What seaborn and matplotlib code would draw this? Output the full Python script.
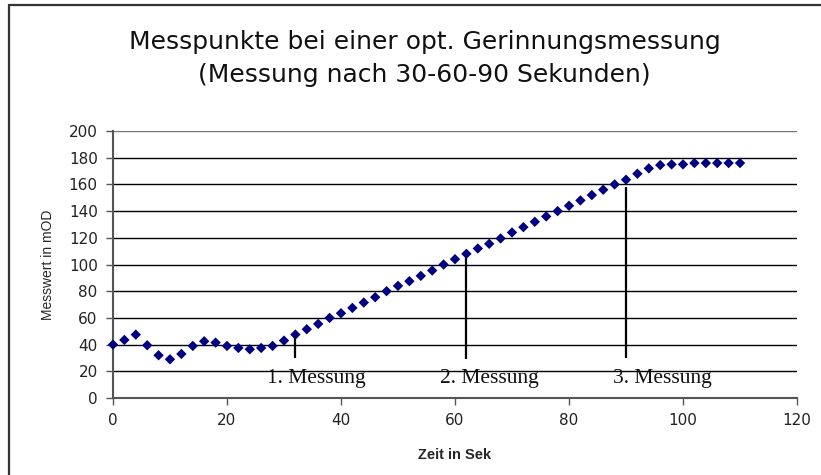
import matplotlib
matplotlib.use("Agg")
import matplotlib.pyplot as plt
from matplotlib.lines import Line2D
from matplotlib.patches import Rectangle
import seaborn as sns
import pandas as pd

# Messpunkte (alle 2 Sekunden)
zeit = [0, 2, 4, 6, 8, 10, 12, 14, 16, 18, 20, 22, 24, 26, 28, 30, 32, 34, 36, 38,
        40, 42, 44, 46, 48, 50, 52, 54, 56, 58, 60, 62, 64, 66, 68, 70, 72, 74, 76, 78,
        80, 82, 84, 86, 88, 90, 92, 94, 96, 98, 100, 102, 104, 106, 108, 110]
messwert = [40, 43.5, 47.5, 39.5, 32, 29, 33, 39, 42.5, 41.5, 39, 37.5, 36.5, 37.5, 39, 43,
            47.5, 51.5, 55.5, 60, 63.5, 67.5, 71.5, 75.5, 80, 84, 87.5, 91.5, 95.5, 100,
            104, 108, 112, 115.5, 119.5, 124, 128, 132, 136, 140, 144, 148, 152, 156, 160,
            163.5, 168, 172, 174.5, 175, 175, 176, 176, 176, 176, 176]

# Messzeitpunkte
mess_x = [32, 62, 90]
mess_top = [47.5, 108, 158]
mess_bottom = [30, 29, 30]
mess_label = ["1. Messung", "2. Messung", "3. Messung"]
label_x = [35.6, 66, 96.4]

df = pd.DataFrame({"zeit": zeit, "messwert": messwert})

sns.set_style("white")
fig = plt.figure(figsize=(8.21, 4.75), dpi=100)
ax = fig.add_axes([0.1376, 0.1621, 0.8332, 0.5621])

# grid lines
for v in range(20, 201, 20):
    ax.axhline(v, color="black" if v < 200 else "#777777", lw=1, zorder=1)

sns.scatterplot(data=df, x="zeit", y="messwert", marker="D", s=28, color="#000080",
                edgecolor="none", ax=ax, zorder=3, clip_on=False)

ax.vlines(mess_x, mess_bottom, mess_top, color="black", lw=1.6, zorder=2)

# labels are cut off at the bottom like in the original
clip = Rectangle((0, 10), 120, 200, transform=ax.transData, facecolor="none", edgecolor="none")
ax.add_patch(clip)
for lx, lab in zip(label_x, mess_label):
    t = ax.text(lx, 11.5, lab, ha="center", va="baseline", fontsize=15.5,
                family="Liberation Serif", color="#111111", zorder=4)
    t.set_clip_path(clip)

ax.set_xlim(0, 120)
ax.set_ylim(0, 200)
ax.set_xticks(range(0, 121, 20))
ax.set_yticks(range(0, 201, 20))
ax.tick_params(axis="both", direction="out", length=5, width=1, color="#555555",
               labelsize=11, pad=6, left=True, bottom=True)
for lab in ax.get_xticklabels() + ax.get_yticklabels():
    lab.set_family("DejaVu Sans")
    lab.set_color("#222222")

for side in ["top", "right"]:
    ax.spines[side].set_visible(False)
for side in ["left", "bottom"]:
    ax.spines[side].set_color("#555555")
    ax.spines[side].set_linewidth(1.5)

ax.set_xlabel("Zeit in Sek", fontsize=10.5, fontweight="bold", family="Liberation Sans", labelpad=14)
ax.set_ylabel("Messwert in mOD", fontsize=10, family="Liberation Sans", labelpad=10)

fig.text(0.517, 0.912, "Messpunkte bei einer opt. Gerinnungsmessung", ha="center", va="center",
         fontsize=18, family="DejaVu Sans", color="#111111")
fig.text(0.517, 0.842, "(Messung nach 30-60-90 Sekunden)", ha="center", va="center",
         fontsize=18, family="DejaVu Sans", color="#111111")

# chart frame (top and left edge visible)
fig.add_artist(Line2D([9 / 821, 1], [1 - 5 / 475, 1 - 5 / 475], transform=fig.transFigure,
                      color="#333333", lw=1.6))
fig.add_artist(Line2D([9 / 821, 9 / 821], [0, 1 - 5 / 475], transform=fig.transFigure,
                      color="#333333", lw=1.6))

fig.savefig("out.png", dpi=100)
